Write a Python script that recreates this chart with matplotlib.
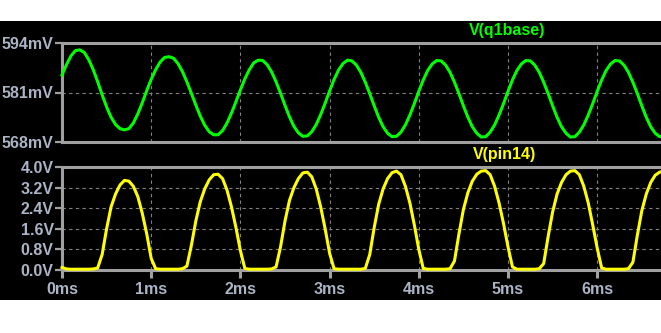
import numpy as np
import matplotlib.pyplot as plt
from matplotlib.patches import Rectangle

# time grid of the samples, ms (every 0.05 ms)
t_ms = np.round(np.arange(0, 6.751, 0.05), 2)

# V(q1base), mV
v_q1base = [
    585.6, 588.3, 590.6, 592.0, 592.2, 591.5, 589.6, 587.0, 583.8, 580.4,
    577.2, 574.5, 572.6, 571.5, 571.2, 571.5, 573.0, 575.4, 578.3, 581.5,
    584.5, 587.0, 589.0, 590.2, 590.4, 590.0, 588.6, 586.5, 583.8, 580.8,
    577.7, 574.8, 572.4, 570.7, 569.9, 569.9, 571.0, 573.0, 575.6, 578.6,
    581.7, 584.6, 587.0, 588.8,
    589.5, 589.4, 588.3, 586.4, 583.8, 580.8, 577.6, 574.6, 572.1, 570.4,
    569.5, 569.6, 570.7, 572.6, 575.2, 578.2, 581.4, 584.4, 586.9, 588.6,
    589.5, 589.3, 588.2, 586.3, 583.7, 580.7, 577.5, 574.5, 572.0, 570.3,
    569.4, 569.5, 570.6, 572.5, 575.1, 578.1, 581.3, 584.3, 586.8, 588.5,
    589.4, 589.3, 588.2, 586.3, 583.7, 580.7, 577.5, 574.5, 572.0, 570.3,
    569.3, 569.4, 570.6, 572.5, 575.1, 578.1, 581.3, 584.3, 586.8, 588.5,
    589.4, 589.3, 588.2, 586.3, 583.7, 580.7, 577.5, 574.5, 572.0, 570.3,
    569.3, 569.4, 570.6, 572.5, 575.1, 578.1, 581.3, 584.3, 586.8, 588.5,
    589.4, 589.3, 588.2, 586.3, 583.7, 580.7, 577.5, 574.5, 572.0, 570.3,
    569.4, 569.6,
]

# V(pin14), V
v_pin14 = [
    0.10, 0.04, 0.03, 0.03, 0.03, 0.03, 0.03, 0.04, 0.08, 0.60,
    1.60, 2.45, 2.95, 3.30, 3.48, 3.45, 3.25, 2.85, 2.20, 1.40,
    0.45, 0.05, 0.03, 0.03, 0.03, 0.03, 0.03, 0.05, 0.15, 0.95,
    1.90, 2.65, 3.15, 3.50, 3.70, 3.72, 3.55, 3.10, 2.45, 1.65,
    0.75, 0.06, 0.03, 0.03, 0.03, 0.03, 0.03, 0.04, 0.12, 0.90,
    1.90, 2.70, 3.20, 3.55, 3.77, 3.80, 3.62, 3.15, 2.45, 1.60,
    0.65, 0.05, 0.03, 0.03, 0.03, 0.03, 0.03, 0.03, 0.06, 0.60,
    1.65, 2.55, 3.15, 3.55, 3.78, 3.84, 3.70, 3.25, 2.60, 1.75,
    0.80, 0.06, 0.03, 0.03, 0.03, 0.03, 0.03, 0.05, 0.35, 1.40,
    2.35, 3.00, 3.45, 3.72, 3.84, 3.86, 3.70, 3.25, 2.60, 1.80,
    0.90, 0.12, 0.03, 0.03, 0.03, 0.03, 0.03, 0.05, 0.25, 1.30,
    2.25, 2.95, 3.40, 3.70, 3.84, 3.86, 3.70, 3.25, 2.60, 1.75,
    0.85, 0.08, 0.03, 0.03, 0.03, 0.03, 0.03, 0.05, 0.30, 1.35,
    2.30, 2.95, 3.40, 3.68, 3.80, 3.84,
]

x_ticks = [0, 1, 2, 3, 4, 5, 6]
x_labels = ["0ms", "1ms", "2ms", "3ms", "4ms", "5ms", "6ms"]
top_ticks = [568, 581, 594]
top_labels = ["568mV", "581mV", "594mV"]
bot_ticks = [0.0, 0.8, 1.6, 2.4, 3.2, 4.0]
bot_labels = ["0.0V", "0.8V", "1.6V", "2.4V", "3.2V", "4.0V"]

plt.rcParams["font.family"] = "Liberation Sans"
plt.rcParams["font.weight"] = "bold"

GRAY = "#a0a0a0"
TXT = "#aab4c4"

fig = plt.figure(figsize=(6.61, 3.33), dpi=100)
fig.patch.set_facecolor("white")
fig.patches.append(Rectangle((0, 33 / 333), 1, 279 / 333, transform=fig.transFigure,
                             facecolor="black", edgecolor="none", zorder=-10))

ax1 = fig.add_axes([62 / 661, 191 / 333, 599 / 661, 99 / 333])
ax2 = fig.add_axes([62 / 661, 63 / 333, 599 / 661, 103 / 333])

for ax in (ax1, ax2):
    ax.set_facecolor("black")
    ax.set_xlim(0, (661 - 62) / 89.2)
    ax.set_xticks(x_ticks)
    ax.spines["right"].set_visible(False)
    for s in ("top", "bottom", "left"):
        ax.spines[s].set_color(GRAY)
        ax.spines[s].set_linewidth(2.2)
    ax.grid(True, color="#808080", linestyle=(0, (3, 3)), linewidth=0.8)
    ax.tick_params(axis="y", colors=GRAY, length=5, width=1.6, pad=1,
                   labelcolor=TXT, labelsize=11.5)

ax1.plot(t_ms, v_q1base, color="#00ff00", linewidth=2.2, zorder=3, clip_on=False)
ax1.set_ylim(568, 594)
ax1.set_yticks(top_ticks)
ax1.set_yticklabels(top_labels)
ax1.tick_params(axis="x", length=0, labelbottom=False)
ax1.text(507 / 661, 302 / 333, "V(q1base)", transform=fig.transFigure, color="#00ff00",
         fontsize=11.5, fontweight="bold", ha="center", va="center")

ax2.plot(t_ms, v_pin14, color="#ffff00", linewidth=2.2, zorder=3, clip_on=False)
ax2.set_ylim(0, 4)
ax2.set_yticks(bot_ticks)
ax2.set_yticklabels(bot_labels)
ax2.set_xticklabels(x_labels)
ax2.tick_params(axis="x", colors=GRAY, length=6, width=2.2, pad=3,
                labelcolor=TXT, labelsize=11.5)
ax2.text(505 / 661, 178 / 333, "V(pin14)", transform=fig.transFigure, color="#ffff00",
         fontsize=11.5, fontweight="bold", ha="center", va="center")

fig.savefig("out.png", dpi=100, facecolor="white")
